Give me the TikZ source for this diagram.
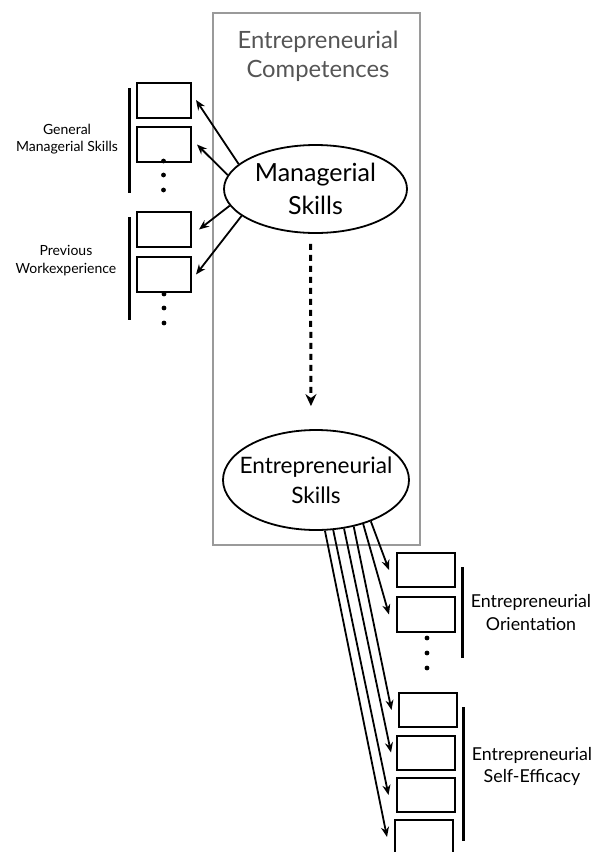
\documentclass[tikz,border=0pt]{standalone}
\usepackage{fontspec}
\setmainfont{Lato}
\usepackage{tikz}
\usetikzlibrary{arrows.meta,shapes.geometric}

\definecolor{boxgray}{HTML}{9A9A9A}
\definecolor{titlegray}{HTML}{555555}

\tikzset{
	item/.style={draw, line width=2pt, minimum width=54pt, minimum height=35pt, inner sep=0pt},
	ritem/.style={item, minimum width=58pt, minimum height=34pt},
	skill/.style={draw, ellipse, line width=1.8pt, inner sep=0pt, align=center},
	link/.style={line width=1.8pt, -{Stealth[length=10pt,width=8pt]}},
	bar/.style={line width=3pt},
	label/.style={align=center, inner sep=0pt},
}

\begin{document}
\begin{tikzpicture}[x=1pt,y=-1pt]
		\useasboundingbox (0,0) rectangle (596,852);
		\clip (0,0) rectangle (596,852);
		\draw[boxgray, line width=1.8pt] (213,13) rectangle (420,545);
		\node[label, text=titlegray, font=\fontsize{23.8}{29}\selectfont] (title) at (318,56.5) {Entrepreneurial\\Competences};

		\node[skill, minimum width=183pt, minimum height=88pt, font=\fontsize{25}{33}\selectfont] (ms) at (315.5,189) {Managerial\\Skills};
		\node[skill, inner xsep=-12pt, minimum width=186pt, minimum height=100pt, font=\fontsize{22.6}{30}\selectfont] (es) at (316,480) {Entrepreneurial\\Skills};
		\draw[line width=3pt, dash pattern=on 6pt off 5pt, -{Stealth[length=12pt,width=11pt]}, shorten <=10pt, shorten >=23pt] ([xshift=-5pt]ms.south) -- ([xshift=-5pt]es.north);

		% managerial side
		\node[item] (g1) at (164,100) {};
		\node[item] (g2) at (164,144.5) {};
		\node[item] (p1) at (164,229.5) {};
		\node[item] (p2) at (164,274.5) {};
		\draw[bar] (129,88) -- (129,193);
		\draw[bar] (129,217) -- (129,320);
		\foreach \y in {161,175,190} \fill (163.5,\y) circle (2.4pt);
		\foreach \y in {294,308,323} \fill (164,\y) circle (2.4pt);
		\node[label, font=\fontsize{14}{17.7}\selectfont] (gms) at (67,139) {General\\Managerial Skills};
		\node[label, font=\fontsize{14}{18}\selectfont] (pwe) at (66,261) {Previous\\Workexperience};
		\draw[link] (ms.162) -- ([xshift=4pt]g1.east);
		\draw[link] (ms.171) -- ([xshift=5pt]g2.east);
		\draw[link] (ms.191) -- ([xshift=7pt]p1.east);
		\draw[link] (ms.200) -- ([xshift=4pt]p2.east);

		% entrepreneurial side
		\node[ritem] (r1) at (426,570) {};
		\node[ritem, minimum height=35pt] (r2) at (426,614.5) {};
		\node[ritem] (r3) at (427.5,710) {};
		\node[ritem] (r4) at (426,752.5) {};
		\node[ritem] (r5) at (425.5,795) {};
		\node[ritem] (r6) at (424,837) {};
		\draw[bar] (462,567) -- (462,658);
		\draw[bar] (463,707) -- (463,841);
		\foreach \y in {638,653,668} \fill (427,\y) circle (2.4pt);
		\node[label, font=\fontsize{17.8}{23}\selectfont] (eo) at (531,613) {Entrepreneurial\\Orientation};
		\node[label, font=\fontsize{17.8}{22}\selectfont] (ese) at (532,766) {Entrepreneurial\\Self-Efficacy};
		\draw[link] (es.323) -- ([xshift=-7pt]r1.west);
		\draw[link] (es.317) -- ([xshift=-7pt]r2.west);
		\draw[link] (es.309) -- ([xshift=-6pt]r3.west);
		\draw[link] (es.300) -- ([xshift=-5pt]r4.west);
		\draw[link] (es.289) -- ([xshift=-7pt]r5.west);
		\draw[link] (es.280) -- ([xshift=-7pt]r6.west);
\end{tikzpicture}
\end{document}
